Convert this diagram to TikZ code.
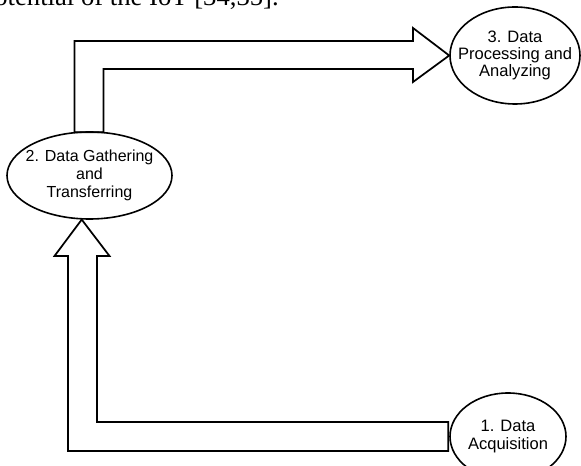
\documentclass[tikz,border=0pt]{standalone}
\usepackage{fontspec}
\setmainfont{Liberation Sans}
\newfontfamily\captionserif{Liberation Serif}
\usetikzlibrary{shapes.geometric,calc}
\begin{document}
\begin{tikzpicture}[x=0.75pt,y=-0.75pt,
  stage/.style={ellipse, draw, line width=1.2pt, inner xsep=-10pt, inner ysep=0pt, align=center,
    font=\fontsize{12.4}{13.5}\selectfont},
  flow/.style={draw, line width=1.3pt, line join=miter}]
\useasboundingbox (0,0) rectangle (581,466);
\clip (0,0) rectangle (581,466);
% cut-off text line at top
\node[anchor=base east, inner sep=0pt, font=\captionserif\fontsize{20}{24}\selectfont] (cap) at (279,5.5) {potential of the IoT [34,35].};
% stages
\node[stage, minimum width=123.75pt, minimum height=65.25pt, font=\fontsize{12}{13.5}\selectfont] (n2) at (89.5,175.5) {2. Data Gathering\\and\\Transferring};
\node[stage, minimum width=97.5pt, minimum height=72.75pt, font=\fontsize{12.4}{12.8}\selectfont] (n3) at (515,55.5) {3. Data\\Processing and\\Analyzing};
\node[stage, minimum width=87pt, minimum height=65.25pt] (n1) at (508,436.5) {1. Data\\Acquisition};
% hollow arrow from 2 to 3
\draw[flow] ($(n2.north)+(-15,1)$) |- (413,41) -- (413,28) -- (n3.west) -- (413,82) -- (413,69) -| ($(n2.north)+(14,1)$) -- cycle;
% hollow arrow from 1 to 2
\draw[flow] (n2.260) -- (109.5,256) -- (97,256) |- ($(n1.west)+(-1,-14.5)$) -- ($(n1.west)+(-1,14.5)$) -| (68,256) -- (54.5,256) -- cycle;
\end{tikzpicture}
\end{document}
